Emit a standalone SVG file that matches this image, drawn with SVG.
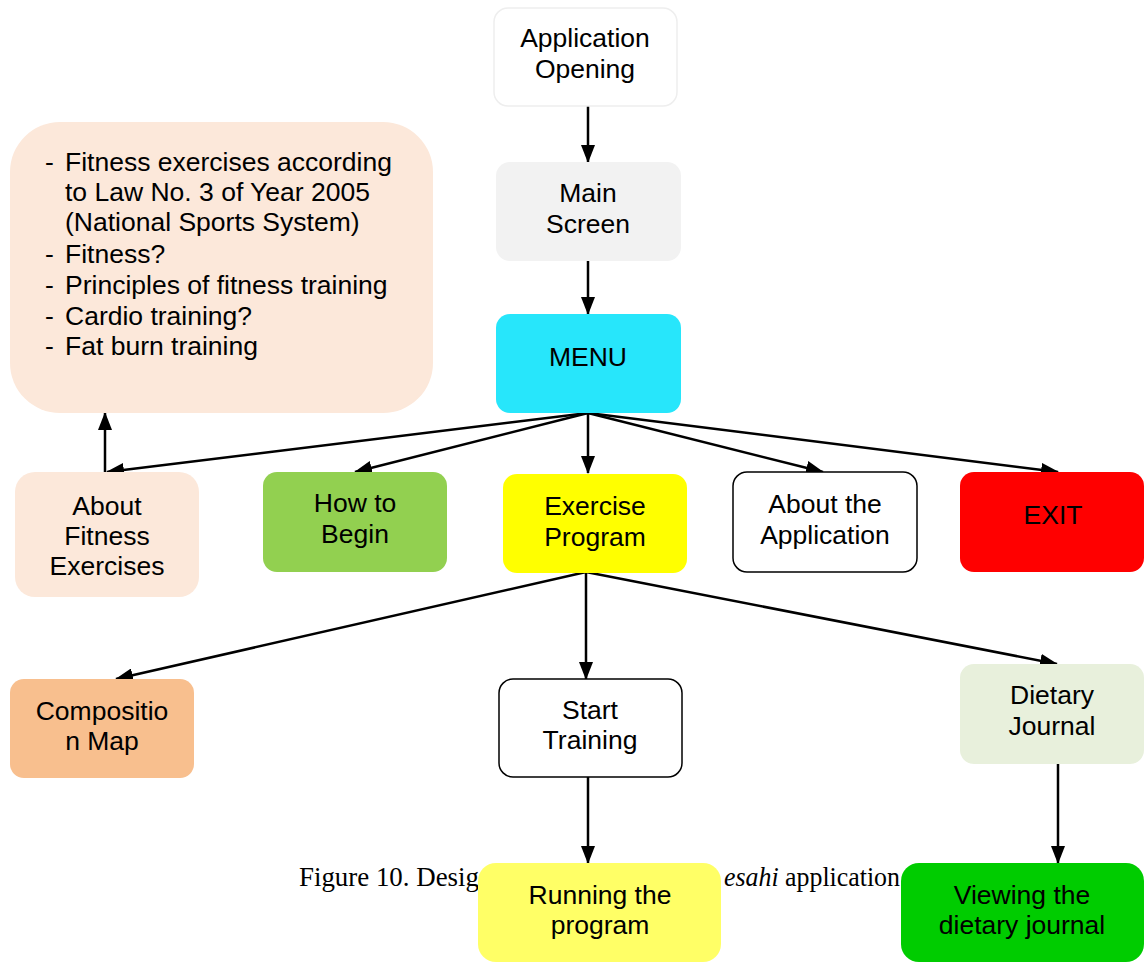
<svg xmlns="http://www.w3.org/2000/svg" width="1144" height="962" viewBox="0 0 1144 962">
<style>
text{font-family:"Liberation Sans",Arial,sans-serif;font-size:26.5px;fill:#000}
.c{text-anchor:middle}
.cap{font-family:"Liberation Serif","Times New Roman",serif;font-size:27px}
.e{fill:none;stroke:#000;stroke-width:2.5}
</style>
<defs>
<marker id="ah" markerUnits="userSpaceOnUse" markerWidth="18" markerHeight="14" refX="17" refY="7" orient="auto">
<path d="M0,0 L18,7 L0,14 Z" fill="#000"/>
</marker>
</defs>
<rect width="1144" height="962" fill="#fff"/>
<g id="caption">
<text class="cap" x="299" y="886" textLength="180" lengthAdjust="spacingAndGlyphs">Figure 10. Desig</text>
<text class="cap" x="724" y="886" textLength="176" lengthAdjust="spacingAndGlyphs"><tspan font-style="italic">esahi</tspan> application</text>
</g>
<g id="connectors">
<line class="e" x1="588" y1="106" x2="588" y2="162" marker-end="url(#ah)"/>
<line class="e" x1="588" y1="261" x2="588" y2="314" marker-end="url(#ah)"/>
<line class="e" x1="588" y1="413" x2="107" y2="472" marker-end="url(#ah)"/>
<line class="e" x1="588" y1="413" x2="355" y2="472" marker-end="url(#ah)"/>
<line class="e" x1="588" y1="413" x2="588" y2="473" marker-end="url(#ah)"/>
<line class="e" x1="588" y1="413" x2="823" y2="472" marker-end="url(#ah)"/>
<line class="e" x1="588" y1="413" x2="1058" y2="472" marker-end="url(#ah)"/>
<line class="e" x1="105" y1="472" x2="105" y2="413" marker-end="url(#ah)"/>
<line class="e" x1="586" y1="572" x2="116" y2="679" marker-end="url(#ah)"/>
<line class="e" x1="586" y1="572" x2="586" y2="679" marker-end="url(#ah)"/>
<line class="e" x1="586" y1="572" x2="1057" y2="664" marker-end="url(#ah)"/>
<line class="e" x1="588" y1="777" x2="588" y2="863" marker-end="url(#ah)"/>
<line class="e" x1="1058" y1="764" x2="1058" y2="863" marker-end="url(#ah)"/>
</g>
<g id="app-opening">
<rect x="494" y="8" width="183" height="98" rx="14" fill="#fff" stroke="#eeeeee" stroke-width="1.5"/>
<text class="c" x="585" y="47">Application</text>
<text class="c" x="585" y="78">Opening</text>
</g>
<g id="main-screen">
<rect x="496" y="162" width="185" height="99" rx="14" fill="#f2f2f2"/>
<text class="c" x="588" y="202">Main</text>
<text class="c" x="588" y="233">Screen</text>
</g>
<g id="menu">
<rect x="496" y="314" width="185" height="99" rx="14" fill="#27e6fb"/>
<text class="c" x="588" y="366">MENU</text>
</g>
<g id="info">
<rect x="10" y="122" width="423" height="291" rx="50" fill="#fce8da"/>
<text x="45" y="171">-</text><text x="65" y="171">Fitness exercises according</text>
<text x="65" y="201">to Law No. 3 of Year 2005</text>
<text x="65" y="231">(National Sports System)</text>
<text x="45" y="263">-</text><text x="65" y="263">Fitness?</text>
<text x="45" y="294">-</text><text x="65" y="294">Principles of fitness training</text>
<text x="45" y="325">-</text><text x="65" y="325">Cardio training?</text>
<text x="45" y="355">-</text><text x="65" y="355">Fat burn training</text>
</g>
<g id="about-fitness">
<rect x="15" y="472" width="184" height="125" rx="20" fill="#fce8da"/>
<text class="c" x="107" y="515">About</text>
<text class="c" x="107" y="545">Fitness</text>
<text class="c" x="107" y="575">Exercises</text>
</g>
<g id="how-to-begin">
<rect x="263" y="472" width="184" height="100" rx="14" fill="#92d050"/>
<text class="c" x="355" y="512">How to</text>
<text class="c" x="355" y="543">Begin</text>
</g>
<g id="exercise-program">
<rect x="503" y="474" width="184" height="99" rx="14" fill="#ffff00"/>
<text class="c" x="595" y="515">Exercise</text>
<text class="c" x="595" y="546">Program</text>
</g>
<g id="about-app">
<rect x="733" y="472" width="184" height="100" rx="14" fill="#fff" stroke="#000" stroke-width="1.5"/>
<text class="c" x="825" y="513">About the</text>
<text class="c" x="825" y="544">Application</text>
</g>
<g id="exit">
<rect x="960" y="472" width="184" height="100" rx="14" fill="#ff0000"/>
<text class="c" x="1053" y="524">EXIT</text>
</g>
<g id="composition-map">
<rect x="10" y="679" width="184" height="99" rx="14" fill="#f8bf8e"/>
<text class="c" x="102" y="720">Compositio</text>
<text class="c" x="102" y="750">n Map</text>
</g>
<g id="start-training">
<rect x="499" y="679" width="183" height="98" rx="14" fill="#fff" stroke="#000" stroke-width="1.5"/>
<text class="c" x="590" y="719">Start</text>
<text class="c" x="590" y="749">Training</text>
</g>
<g id="dietary-journal">
<rect x="960" y="664" width="184" height="100" rx="14" fill="#e8f0dc"/>
<text class="c" x="1052" y="704">Dietary</text>
<text class="c" x="1052" y="735">Journal</text>
</g>
<g id="running-program">
<rect x="478" y="863" width="243" height="99" rx="18" fill="#ffff66"/>
<text class="c" x="600" y="904">Running the</text>
<text class="c" x="600" y="934">program</text>
</g>
<g id="viewing-journal">
<rect x="901" y="863" width="243" height="99" rx="18" fill="#00cc00"/>
<text class="c" x="1022" y="904">Viewing the</text>
<text class="c" x="1022" y="934">dietary journal</text>
</g>
</svg>
